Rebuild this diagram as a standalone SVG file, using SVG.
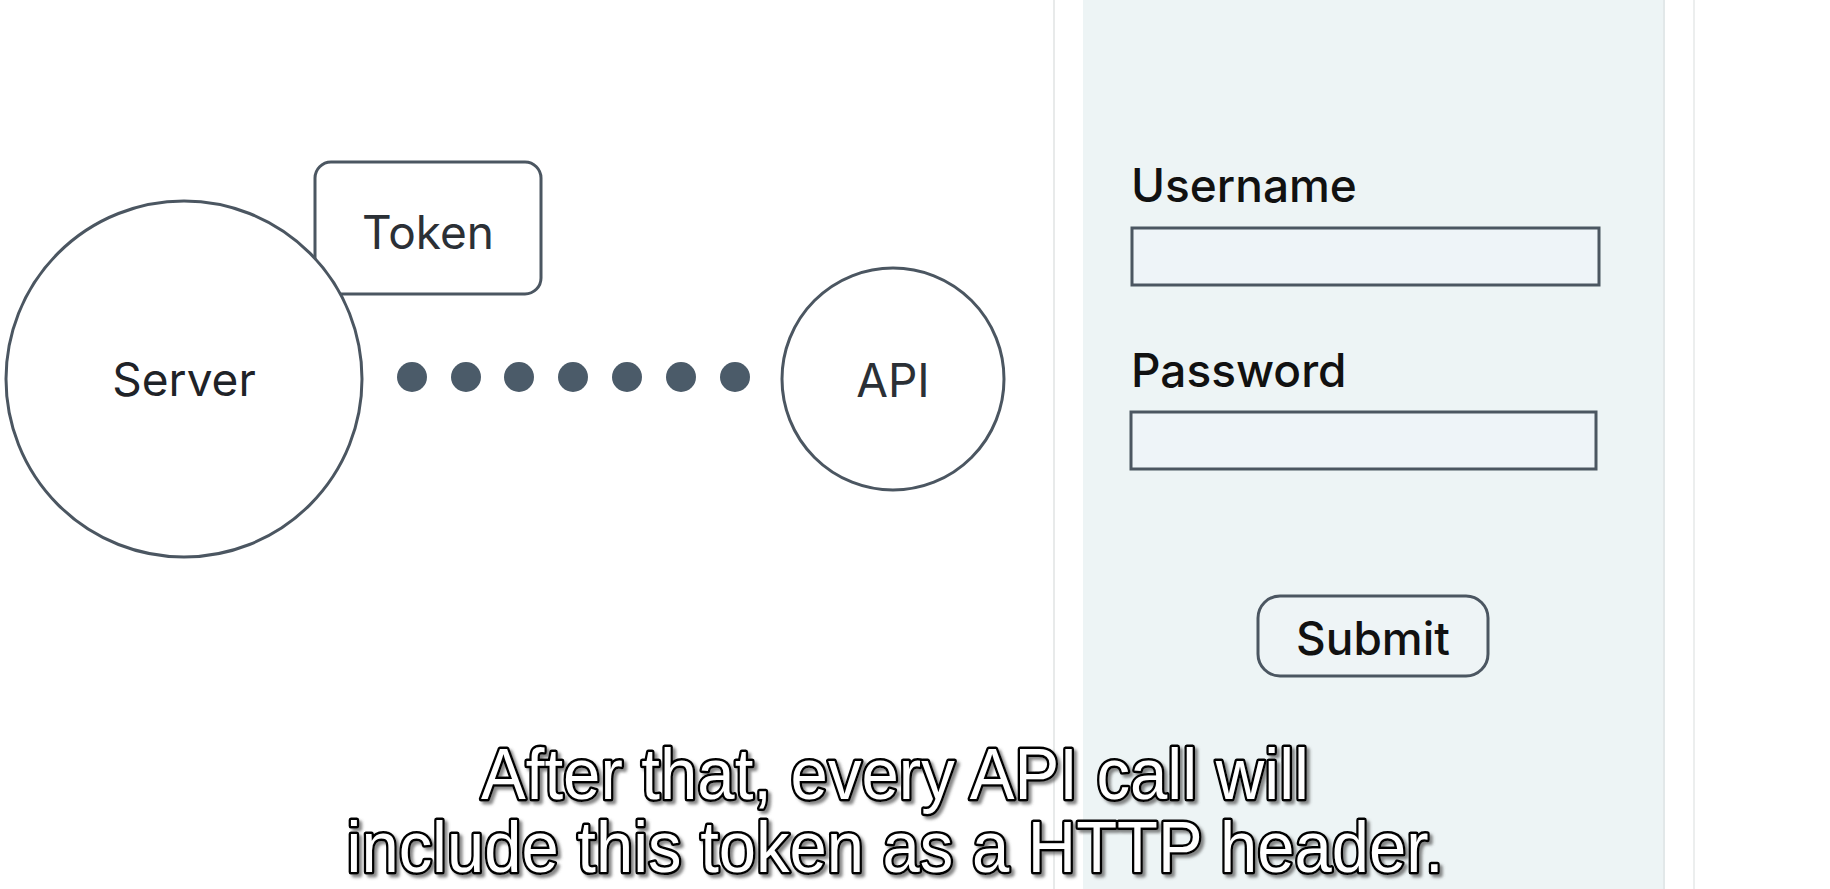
<svg xmlns="http://www.w3.org/2000/svg" width="1830" height="889" viewBox="0 0 1830 889">
<defs>
<filter id="sh" x="-5%" y="-20%" width="110%" height="140%">
<feDropShadow dx="3" dy="3" stdDeviation="1.5" flood-color="#555" flood-opacity="0.7"/>
</filter>
</defs>
<style>
.ln{stroke:#4b5661;stroke-width:3}
.wf{fill:#fff}
.inp{fill:#eef4f8}
.btn{fill:#eef4f6}
.lbl{font-family:Inter,"Noto Sans","Liberation Sans",sans-serif;fill:#2b3036;font-size:46px}
.form{font-family:Inter,"Noto Sans","Liberation Sans",sans-serif;fill:#111;font-size:46px;font-weight:500}
.dot{fill:#4b5b69}
.sub{font-family:"Liberation Sans",Arial,sans-serif;font-size:72px;fill:#fff;stroke:#000;stroke-width:5;paint-order:stroke;stroke-linejoin:round;text-anchor:middle}
</style>
<rect width="1830" height="889" fill="#fff"/>
<g id="panel">
<rect x="1083" y="0" width="581" height="889" fill="#edf4f5"/>
<line x1="1054" y1="0" x2="1054" y2="889" stroke="#e8eaea" stroke-width="2"/>
<line x1="1664" y1="0" x2="1664" y2="889" stroke="#e2e8e9" stroke-width="2"/>
<line x1="1694" y1="0" x2="1694" y2="889" stroke="#eceeee" stroke-width="2"/>
</g>
<g id="token">
<rect x="315" y="162" width="226" height="132" rx="16" class="ln wf"/>
<text x="428" y="249" text-anchor="middle" class="lbl">Token</text>
</g>
<g id="server">
<circle cx="184" cy="379" r="178" class="ln wf"/>
<text x="184" y="396" text-anchor="middle" class="lbl" style="fill:#1f2328">Server</text>
</g>
<g id="connectors">
<circle class="dot" cx="412" cy="377" r="15"/>
<circle class="dot" cx="466" cy="377" r="15"/>
<circle class="dot" cx="519" cy="377" r="15"/>
<circle class="dot" cx="573" cy="377" r="15"/>
<circle class="dot" cx="627" cy="377" r="15"/>
<circle class="dot" cx="681" cy="377" r="15"/>
<circle class="dot" cx="735" cy="377" r="15"/>
</g>
<g id="api">
<circle cx="893" cy="379" r="111" class="ln wf"/>
<text x="893" y="397" text-anchor="middle" class="lbl">API</text>
</g>
<g id="username">
<text x="1131" y="202" class="form">Username</text>
<rect x="1132" y="228" width="467" height="57" class="ln inp"/>
</g>
<g id="password">
<text x="1131" y="387" class="form">Password</text>
<rect x="1131" y="412" width="465" height="57" class="ln inp"/>
</g>
<g id="submit">
<rect x="1258" y="596" width="230" height="80" rx="22" class="ln btn"/>
<text x="1373" y="655" text-anchor="middle" class="form">Submit</text>
</g>
<g id="subtitle" filter="url(#sh)">
<text class="sub" x="895" y="799" textLength="828" lengthAdjust="spacingAndGlyphs">After that, every API call will</text>
<text class="sub" x="895" y="872" textLength="1097" lengthAdjust="spacingAndGlyphs">include this token as a HTTP header.</text>
</g>
</svg>
